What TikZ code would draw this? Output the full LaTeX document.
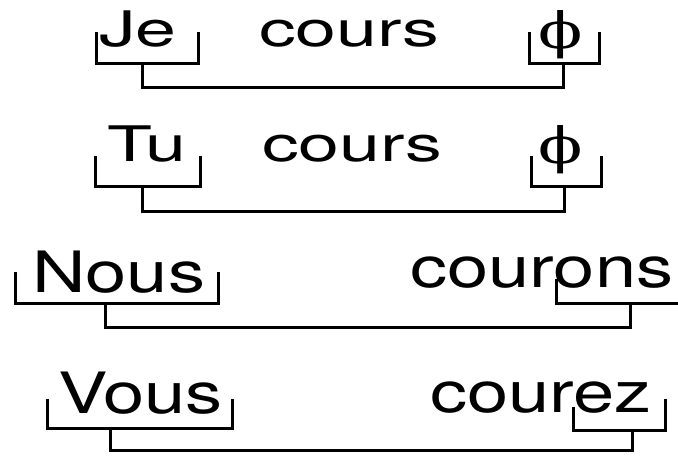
\documentclass[tikz,border=0pt]{standalone}
\usepackage{fontspec}
\newfontfamily\wordfont[FakeStretch=1.5]{TeX Gyre Heros}
\newfontfamily\bigwordfont[FakeStretch=1.3]{TeX Gyre Heros}
\newfontfamily\phifont[FakeStretch=1.3]{DejaVu Serif}
\tikzset{
  word/.style={inner sep=0pt, anchor=base west, font=\wordfont\fontsize{49}{50}\selectfont},
  bigword/.style={inner sep=0pt, anchor=base west, font=\bigwordfont\fontsize{57}{58}\selectfont},
  nul/.style={inner sep=0pt, anchor=base, font=\phifont\fontsize{50}{52}\selectfont},
  brk/.style={line width=3pt, line cap=rect}
}
\begin{document}
\begin{tikzpicture}[x=1pt, y=-1pt]
  \useasboundingbox (0,0) rectangle (678,457);
  % Je cours 0
  \node[word] (je) at (99,47) {Je};
  \node[word] (cours1) at (259,47) {cours};
  \node[nul] (phi1) at (561,49) {ϕ};
  \draw[brk] (96,34) |- (198,64) -- (198,34);
  \draw[brk] (529,34) |- (599,64) -- (599,34);
  \coordinate (je-s) at (142,64); \coordinate (phi1-s) at (563,64);
  \draw[brk] (je-s) -- ++(0,24) -| (phi1-s);
  % Tu cours 0
  \node[word] (tu) at (107,162) {Tu};
  \node[word] (cours2) at (262,162) {cours};
  \node[nul] (phi2) at (561,164) {ϕ};
  \draw[brk] (95,158) |- (200,187) -- (200,158);
  \draw[brk] (531,158) |- (601,187) -- (601,158);
  \coordinate (tu-s) at (142,187); \coordinate (phi2-s) at (564,187);
  \draw[brk] (tu-s) -- ++(0,25) -| (phi2-s);
  % Nous courons
  \node[bigword] (nous) at (32,293) {Nous};
  \node[bigword] (courons) at (410,288) {courons};
  \draw[brk] (15,274) |- (218,304) -- (218,274);
  \draw[brk] (556,281) |- (678,304);
  \coordinate (nous-s) at (105,304); \coordinate (ons-s) at (630,304);
  \draw[brk] (nous-s) -- ++(0,24) -| (ons-s);
  % Vous courez
  \node[bigword] (vous) at (58,413) {Vous};
  \node[bigword] (courez) at (430,412) {courez};
  \draw[brk] (47,400) |- (232,428) -- (232,400);
  \draw[brk] (573,408) |- (665,430) -- (665,400);
  \coordinate (vous-s) at (110,428); \coordinate (ez-s) at (632,430);
  \draw[brk] (vous-s) -- ++(0,22) -| (ez-s);
\end{tikzpicture}
\end{document}
